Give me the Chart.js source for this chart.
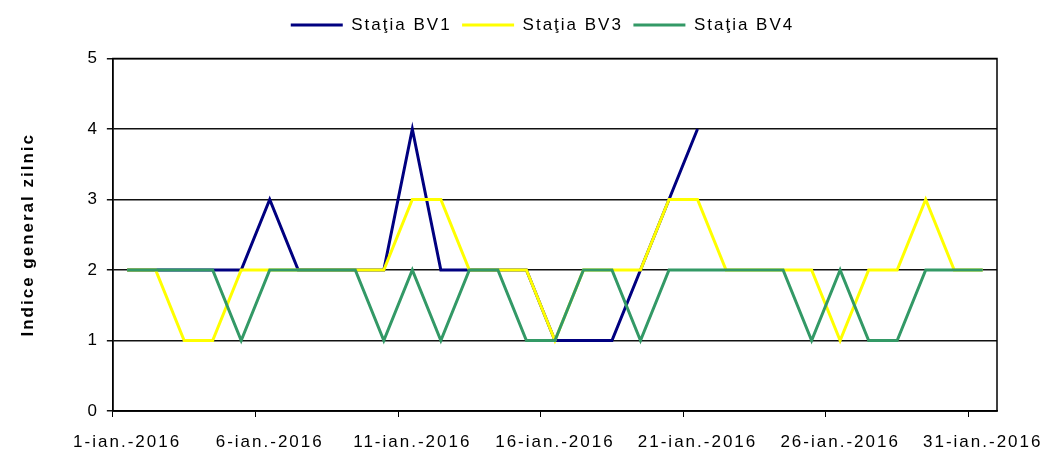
<!DOCTYPE html>
<html>
<head>
<meta charset="utf-8">
<script src="https://cdn.jsdelivr.net/npm/chart.js@4/dist/chart.umd.min.js"></script>
<style>
  html, body { margin: 0; padding: 0; background: #fff; }
  #cadru { width: 1046px; height: 452px; }
</style>
</head>
<body>
<div id="cadru"><canvas id="grafic"></canvas></div>
<script>
// zilele lunii ianuarie 2016
const zile = [
    "1-ian.-2016", "2-ian.-2016", "3-ian.-2016", "4-ian.-2016", "5-ian.-2016",
    "6-ian.-2016", "7-ian.-2016", "8-ian.-2016", "9-ian.-2016", "10-ian.-2016",
    "11-ian.-2016", "12-ian.-2016", "13-ian.-2016", "14-ian.-2016", "15-ian.-2016",
    "16-ian.-2016", "17-ian.-2016", "18-ian.-2016", "19-ian.-2016", "20-ian.-2016",
    "21-ian.-2016", "22-ian.-2016", "23-ian.-2016", "24-ian.-2016", "25-ian.-2016",
    "26-ian.-2016", "27-ian.-2016", "28-ian.-2016", "29-ian.-2016", "30-ian.-2016",
    "31-ian.-2016"
];

// indice general zilnic pe statii
const bv1 = [2, 2, 2, 2, 2, 3, 2, 2, 2, 2, 4, 2, 2, 2, 2, 1, 1, 1, 2, 3, 4,
             null, null, null, null, null, null, null, null, null, null];
const bv3 = [2, 2, 1, 1, 2, 2, 2, 2, 2, 2, 3, 3, 2, 2, 2, 1, 2, 2, 2, 3, 3,
             2, 2, 2, 2, 1, 2, 2, 3, 2, 2];
const bv4 = [2, 2, 2, 2, 1, 2, 2, 2, 2, 1, 2, 1, 2, 2, 1, 1, 2, 2, 1, 2, 2,
             2, 2, 2, 1, 2, 1, 1, 2, 2, 2];

// etichete afisate pe axa x (din 5 in 5 zile)
const pasEtichete = 5;
const valoriY = [0, 1, 2, 3, 4, 5];

const font = "'Liberation Sans', Arial, sans-serif";

// textul din imagine e mai lat, asa ca il "intindem" putin
const spatiere = {
    id: "spatiere",
    beforeUpdate(chart) { chart.ctx.letterSpacing = "2px"; },
    beforeDraw(chart) { chart.ctx.letterSpacing = "2px"; }
};

// loc in plus sub legenda si legenda mutata putin la dreapta
const legendaMutata = {
    id: "legendaMutata",
    beforeInit(chart) {
        const fit = chart.legend.fit;
        chart.legend.fit = function () {
            fit.bind(this)();
            this.height += 15;
        };
    },
    afterLayout(chart) {
        chart.legend.left += 35;
        chart.legend.right += 35;
    }
};

// chenarul zonei de desen
const chenar = {
    id: "chenar",
    beforeDatasetsDraw(chart) {
        const { ctx, chartArea: a } = chart;
        ctx.save();
        ctx.strokeStyle = "#000";
        ctx.lineWidth = 1.5;
        ctx.strokeRect(a.left, a.top, a.right - a.left, a.bottom - a.top);
        ctx.restore();
    }
};

function serie(nume, valori, culoare, ordine) {
    return {
        label: nume,
        data: valori,
        borderColor: culoare,
        backgroundColor: culoare,
        borderWidth: 3,
        pointRadius: 0,
        tension: 0,
        order: ordine
    };
}

new Chart(document.getElementById("grafic"), {
    type: "line",
    data: {
        labels: zile,
        datasets: [
            serie("Staţia BV1", bv1, "#000080", 3),
            serie("Staţia BV3", bv3, "#ffff00", 2),
            serie("Staţia BV4", bv4, "#339966", 1)
        ]
    },
    plugins: [spatiere, legendaMutata, chenar],
    options: {
        responsive: true,
        maintainAspectRatio: false,
        animation: false,
        layout: { padding: { top: 6, right: 49, bottom: 0, left: 18 } },
        plugins: {
            tooltip: { enabled: false },
            legend: {
                position: "top",
                labels: {
                    usePointStyle: true,
                    pointStyle: "line",
                    pointStyleWidth: 52,
                    boxWidth: 52,
                    padding: 10.5,
                    color: "#000",
                    font: { family: font, size: 17 },
                    sort: (a, b) => a.datasetIndex - b.datasetIndex
                }
            }
        },
        scales: {
            x: {
                offset: true,
                afterFit(scale) {
                    scale.height = 41;
                    scale.paddingRight = 0;
                },
                grid: {
                    offset: true,
                    drawOnChartArea: false,
                    tickLength: 6,
                    color: c => (c.index % pasEtichete === 0 ? "#000" : "rgba(0,0,0,0)")
                },
                border: { color: "#000", width: 1.5 },
                ticks: {
                    autoSkip: false,
                    maxRotation: 0,
                    color: "#000",
                    padding: 15,
                    font: { family: font, size: 17 },
                    callback: (v, i) => (i % pasEtichete === 0 ? zile[i] : "")
                }
            },
            y: {
                min: valoriY[0],
                max: valoriY[valoriY.length - 1],
                grid: { color: "#111", lineWidth: 1.5, tickLength: 6 },
                border: { color: "#000", width: 1.5 },
                ticks: {
                    stepSize: 1,
                    color: "#000",
                    padding: 8,
                    font: { family: font, size: 17 }
                },
                title: {
                    display: true,
                    text: "Indice general zilnic",
                    color: "#000",
                    padding: { top: 0, bottom: 41 },
                    font: { family: font, size: 17, weight: "bold" }
                }
            }
        }
    }
});
</script>
</body>
</html>
